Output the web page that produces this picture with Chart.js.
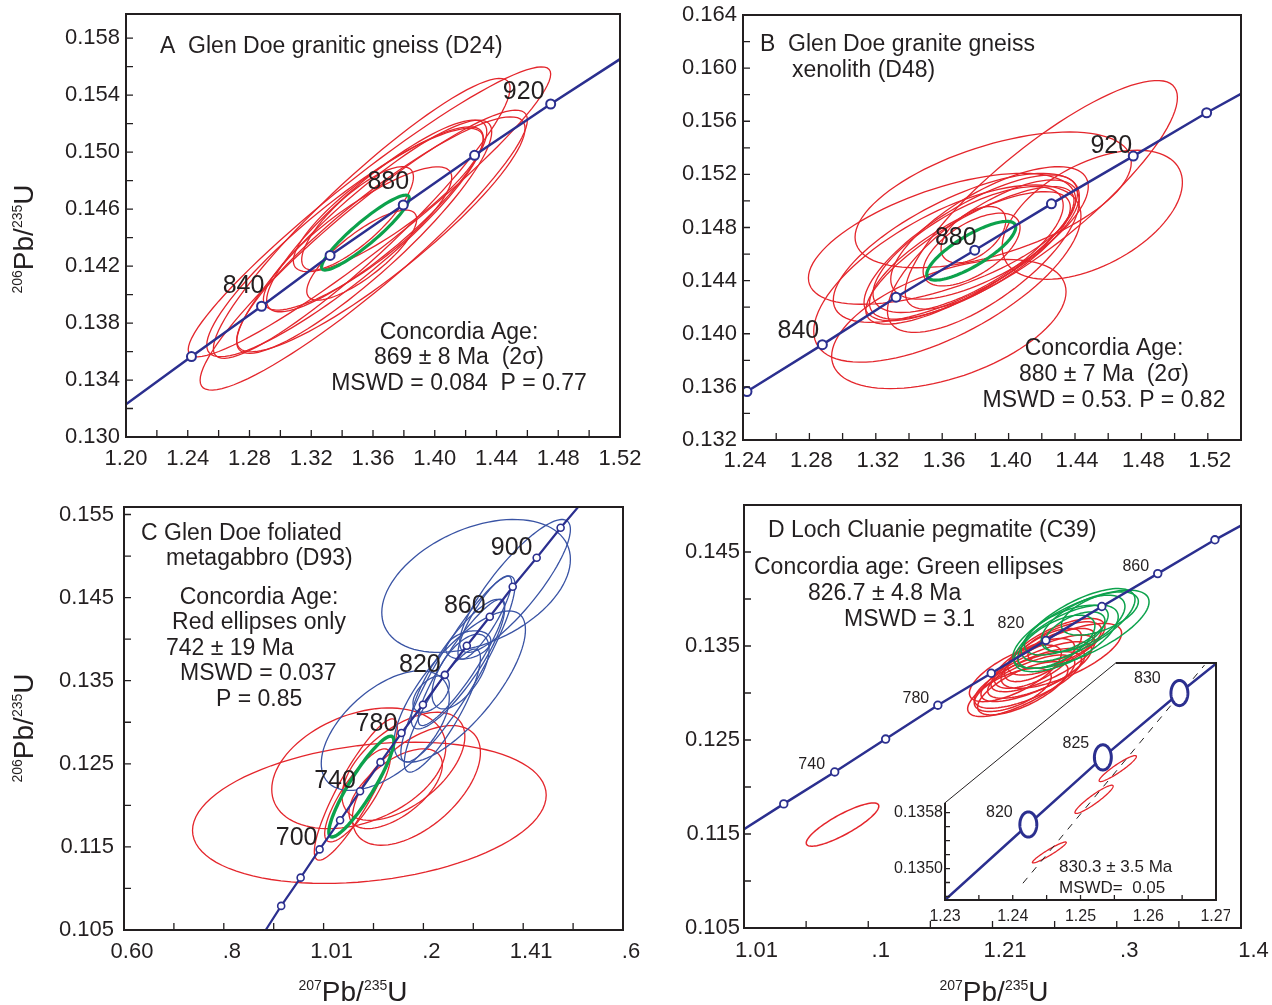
<!DOCTYPE html>
<html>
<head>
<meta charset="utf-8">
<title>Concordia diagrams</title>
<script src="https://cdn.jsdelivr.net/npm/chart.js@4.4.1/dist/chart.umd.min.js"></script>
<style>
  body { margin: 0; background: #fff; }
  #page { position: relative; width: 1272px; height: 1005px; overflow: hidden;
          font-family: "Liberation Sans", Arial, Helvetica, sans-serif; color: #231f20; }
  #page canvas { position: absolute; }
  .axt { position: absolute; width: 160px; text-align: center; font-size: 28px; line-height: 30px; white-space: nowrap; }
  .axt sup { font-size: 14px; vertical-align: baseline; position: relative; top: -11px; }
  .rot { transform: rotate(-90deg); }
</style>
</head>
<body>
<div id="page">
  <canvas id="cA" width="660" height="490" style="left:0;top:0"></canvas>
  <canvas id="cB" width="636" height="490" style="left:636px;top:0"></canvas>
  <canvas id="cC" width="660" height="515" style="left:0;top:490px"></canvas>
  <canvas id="cD" width="636" height="515" style="left:636px;top:490px"></canvas>
  <canvas id="cI" width="350" height="280" style="left:880px;top:650px"></canvas>
  <div class="axt rot" style="left:-54px;top:222px"><sup>206</sup>Pb/<sup>235</sup>U</div>
  <div class="axt rot" style="left:-54px;top:711px"><sup>206</sup>Pb/<sup>235</sup>U</div>
  <div class="axt" style="left:273px;top:977px"><sup>207</sup>Pb/<sup>235</sup>U</div>
  <div class="axt" style="left:914px;top:977px"><sup>207</sup>Pb/<sup>235</sup>U</div>
</div>
<script>
// ellipses are [centre 207/235, centre 206/238, half-width x, half-width y, rho]

// ---------- A  Glen Doe granitic gneiss (D24) ----------
const agesA = [820, 840, 860, 880, 900, 920];
const concXA = [1.2424, 1.2878, 1.3322, 1.3796, 1.4258, 1.4751];
const concYA = [0.13565, 0.13918, 0.14275, 0.14629, 0.14978, 0.15338];
const curveEndsA = [[1.20, 0.1323], [1.52, 0.15653]];
const redA = [
  [1.3577, 0.14581, 0.1174, 0.01018, 0.95],
  [1.3540, 0.14312, 0.1060, 0.00983, 0.93],
  [1.3527, 0.14535, 0.0961, 0.00983, 0.93],
  [1.3543, 0.14406, 0.0826, 0.00819, 0.90],
  [1.3624, 0.14552, 0.0713, 0.00673, 0.88],
  [1.3500, 0.14394, 0.0610, 0.00503, 0.85],
  [1.3500, 0.14535, 0.0362, 0.00363, 0.80],
  [1.3527, 0.14277, 0.0356, 0.00316, 0.80],
  [1.3651, 0.14423, 0.0934, 0.00825, 0.90],
  [1.3419, 0.14371, 0.0896, 0.00807, 0.90],
  [1.3699, 0.14664, 0.0615, 0.00503, 0.85]
];
const greenA = [[1.3551, 0.14435, 0.0284, 0.00263, 0.92]];
const xTickValsA = [1.20, 1.24, 1.28, 1.32, 1.36, 1.40, 1.44, 1.48, 1.52];
const xTickTextA = ['1.20', '1.24', '1.28', '1.32', '1.36', '1.40', '1.44', '1.48', '1.52'];
const yTickValsA = [0.130, 0.134, 0.138, 0.142, 0.146, 0.150, 0.154, 0.158];
const yTickTextA = ['0.130', '0.134', '0.138', '0.142', '0.146', '0.150', '0.154', '0.158'];

// ---------- B  Glen Doe granite gneiss xenolith (D48) ----------
const agesB = [820, 840, 860, 880, 900, 920, 940];
const concXB = [1.2424, 1.2878, 1.3322, 1.3796, 1.4258, 1.4751, 1.5193];
const concYB = [0.13565, 0.13918, 0.14275, 0.14629, 0.14978, 0.15338, 0.15664];
const curveEndsB = [[1.2380, 0.13533], [1.54, 0.15806]];
const redB = [
  [1.4197, 0.15046, 0.0820, 0.00861, 0.85],
  [1.3907, 0.15008, 0.0832, 0.00511, 0.55],
  [1.4504, 0.14896, 0.0543, 0.00486, 0.50],
  [1.3640, 0.14073, 0.0706, 0.00486, 0.50],
  [1.3599, 0.14715, 0.0805, 0.00493, 0.60],
  [1.3631, 0.14453, 0.0805, 0.00667, 0.65],
  [1.3685, 0.14647, 0.0741, 0.00561, 0.70],
  [1.3772, 0.14647, 0.0643, 0.00549, 0.75],
  [1.3767, 0.14590, 0.0627, 0.00518, 0.80],
  [1.3767, 0.14590, 0.0605, 0.00480, 0.75],
  [1.3756, 0.14634, 0.0573, 0.00474, 0.70],
  [1.3885, 0.14759, 0.0595, 0.00499, 0.70],
  [1.3788, 0.14746, 0.0195, 0.00212, 0.50],
  [1.3777, 0.14634, 0.0292, 0.00274, 0.60],
  [1.3848, 0.14584, 0.0578, 0.00574, 0.72]
];
const greenB = [[1.3775, 0.14625, 0.0268, 0.00221, 0.80]];
const xTickValsB = [1.24, 1.28, 1.32, 1.36, 1.40, 1.44, 1.48, 1.52];
const xTickTextB = ['1.24', '1.28', '1.32', '1.36', '1.40', '1.44', '1.48', '1.52'];
const yTickValsB = [0.132, 0.136, 0.140, 0.144, 0.148, 0.152, 0.156, 0.160, 0.164];
const yTickTextB = ['0.132', '0.136', '0.140', '0.144', '0.148', '0.152', '0.156', '0.160', '0.164'];

// ---------- C  Glen Doe foliated metagabbro (D93) ----------
const agesC = [660, 680, 700, 720, 740, 760, 780, 800, 820, 840, 860, 880, 900, 920];
const concXC = [0.915, 0.954, 0.992, 1.033, 1.073, 1.114, 1.156, 1.199, 1.243, 1.287, 1.333, 1.379, 1.427, 1.475];
const concYC = [0.1079, 0.1113, 0.1147, 0.1182, 0.1217, 0.1252, 0.1287, 0.1321, 0.1357, 0.1392, 0.1427, 0.1463, 0.1498, 0.1534];
const curveEndsC = [[0.884, 0.105], [1.52, 0.1566]];
const redC = [
  [1.0917, 0.1191, 0.3544, 0.0085, 0.25],
  [1.0705, 0.12446, 0.1744, 0.00726, 0.35],
  [1.1860, 0.1224, 0.1283, 0.0072, 0.55],
  [1.1600, 0.1247, 0.1231, 0.0065, 0.55],
  [1.0646, 0.1219, 0.0832, 0.0085, 0.88],
  [1.0681, 0.1212, 0.0659, 0.0056, 0.82],
  [1.1444, 0.1220, 0.0936, 0.0048, 0.60]
];
const blueC = [
  [1.3056, 0.1464, 0.1890, 0.0080, 0.40],
  [1.1236, 0.1290, 0.1283, 0.0072, 0.55],
  [1.2727, 0.1343, 0.1318, 0.0091, 0.75],
  [1.2692, 0.1364, 0.1144, 0.0112, 0.90],
  [1.2692, 0.1370, 0.0936, 0.0078, 0.85],
  [1.2744, 0.1361, 0.0572, 0.0045, 0.60],
  [1.3836, 0.1464, 0.1110, 0.0080, 0.85],
  [1.2380, 0.1314, 0.0763, 0.0074, 0.85],
  [1.2900, 0.1393, 0.0451, 0.0017, 0.30],
  [1.2155, 0.1334, 0.0364, 0.0022, 0.50],
  [1.3230, 0.1426, 0.0537, 0.0050, 0.85],
  [1.2761, 0.1372, 0.0867, 0.0076, 0.90]
];
const greenC = [[1.0757, 0.12226, 0.0652, 0.00606, 0.90]];
const xTickValsC = [0.6, 0.8, 1.0, 1.2, 1.4, 1.6];
const xTickTextC = ['0.60', '.8', '1.01', '.2', '1.41', '.6'];
const yTickValsC = [0.105, 0.115, 0.125, 0.135, 0.145, 0.155];
const yTickTextC = ['0.105', '0.115', '0.125', '0.135', '0.145', '0.155'];

// ---------- D  Loch Cluanie pegmatite (C39) ----------
const agesD = [720, 740, 760, 780, 800, 820, 840, 860, 880];
const concXD = [1.032, 1.073, 1.114, 1.156, 1.199, 1.243, 1.288, 1.333, 1.379];
const concYD = [0.1182, 0.1216, 0.1251, 0.1287, 0.1321, 0.1356, 0.1392, 0.1427, 0.1463];
const curveEndsD = [[1.0, 0.1155], [1.4, 0.1478]];
const redD = [
  [1.0793, 0.1160, 0.0292, 0.0023, 0.85],
  [1.2231, 0.13077, 0.0431, 0.00327, 0.75],
  [1.2285, 0.13139, 0.0431, 0.00301, 0.70],
  [1.2184, 0.13209, 0.0370, 0.00301, 0.70],
  [1.2352, 0.13227, 0.0445, 0.00318, 0.75],
  [1.2244, 0.13050, 0.0364, 0.00283, 0.70],
  [1.2406, 0.13315, 0.0418, 0.00301, 0.75],
  [1.2338, 0.13315, 0.0323, 0.00265, 0.65],
  [1.2554, 0.13395, 0.0485, 0.00345, 0.70],
  [1.2514, 0.13492, 0.0391, 0.00301, 0.70],
  [1.2540, 0.13510, 0.0337, 0.00248, 0.65],
  [1.2352, 0.13209, 0.0391, 0.00265, 0.70],
  [1.2554, 0.13510, 0.0269, 0.00177, 0.60],
  [1.2163, 0.13033, 0.0310, 0.00230, 0.60],
  [1.2406, 0.13404, 0.0310, 0.00283, 0.70]
];
const greenD = [
  [1.2712, 0.13678, 0.0548, 0.00416, 0.70],
  [1.2689, 0.13722, 0.0458, 0.00389, 0.70],
  [1.2594, 0.13581, 0.0418, 0.00354, 0.65],
  [1.2594, 0.13669, 0.0337, 0.00265, 0.60],
  [1.2729, 0.13740, 0.0337, 0.00301, 0.60],
  [1.2864, 0.13846, 0.0310, 0.00230, 0.55],
  [1.2514, 0.13545, 0.0310, 0.00283, 0.60],
  [1.2662, 0.13651, 0.0243, 0.00212, 0.55]
];
const xTickValsD = [1.0, 1.1, 1.2, 1.3, 1.4];
const xTickTextD = ['1.01', '.1', '1.21', '.3', '1.4'];
const yTickValsD = [0.105, 0.115, 0.125, 0.135, 0.145];
const yTickTextD = ['0.105', '0.115', '0.125', '0.135', '0.145'];

// ---------- D inset ----------
const agesI = [820, 825, 830];
const concXI = [1.2423, 1.2533, 1.2646];
const concYI = [0.13563, 0.13659, 0.13751];
const curveEndsI = [[1.23, 0.13455], [1.27, 0.13793]];
const ageErrI = [[0.00125, 0.00018], [0.00125, 0.00018], [0.00125, 0.00018]];
const dashXI = [1.2415, 1.2683];
const dashYI = [0.13479, 0.13791];
const redI = [
  [1.2454, 0.13523, 0.00250, 0.000150, 0.95],
  [1.2520, 0.13599, 0.00282, 0.000202, 0.93],
  [1.2555, 0.13643, 0.00275, 0.000186, 0.93]
];
const xTickValsI = [1.23, 1.24, 1.25, 1.26, 1.27];
const xTickTextI = ['1.23', '1.24', '1.25', '1.26', '1.27'];
const yTickValsI = [0.1350, 0.1358];
const yTickTextI = ['0.1350', '0.1358'];

const FONT = '"Liberation Sans", Arial, Helvetica, sans-serif';
const INK = '#231f20', NAVY = '#2b2f8f', RED = '#e4262c', GREEN = '#0ca24c', BLUE = '#3953a4';

function pts(xs, ys) { return xs.map((x, i) => ({ x, y: ys[i] })); }
function withEnds(ends, v, k) { return [ends[0][k]].concat(v, [ends[1][k]]); }
function steps(a, b, s) {
  const out = [];
  for (let v = a; v <= b + s / 1000; v += s) out.push(+v.toFixed(6));
  return out;
}

function ellipsePath(ctx, xs, ys, e) {
  const [cx, cy, ax, ay, rho] = e;
  const k = Math.sqrt(1 - rho * rho);
  ctx.beginPath();
  for (let i = 0; i <= 96; i++) {
    const t = (i / 96) * Math.PI * 2;
    const px = xs.getPixelForValue(cx + ax * Math.cos(t));
    const py = ys.getPixelForValue(cy + ay * (rho * Math.cos(t) + k * Math.sin(t)));
    if (i === 0) ctx.moveTo(px, py); else ctx.lineTo(px, py);
  }
  ctx.closePath();
}

function axis(dir, p) {
  const ax = p[dir];
  return {
    type: 'linear', min: ax.min, max: ax.max,
    grid: { display: false, drawTicks: false },
    border: { display: false },
    afterBuildTicks: s => { s.ticks = ax.vals.map(v => ({ value: v })); },
    afterFit: s => {
      if (dir === 'x') { s.height = ax.size; s.paddingLeft = 0; s.paddingRight = 0; }
      else { s.width = ax.size; s.paddingTop = 0; s.paddingBottom = 0; }
    },
    ticks: {
      autoSkip: false, maxRotation: 0, minRotation: 0, padding: ax.pad, color: INK,
      labelOffset: ax.shift || 0,
      font: { family: FONT, size: p.tickFont },
      callback: (v, i) => ax.text[i]
    }
  };
}

function panel(id, p) {
  const deco = {
    id: 'deco',
    beforeDraw(chart) {
      if (!p.cut) return;
      const { ctx, chartArea: a, scales: { x, y } } = chart;
      const cx = x.getPixelForValue(p.cut.x), cy = y.getPixelForValue(p.cut.y);
      ctx.save();
      ctx.fillStyle = '#fff';
      ctx.beginPath();
      ctx.moveTo(a.left, cy); ctx.lineTo(a.left, a.bottom); ctx.lineTo(a.right, a.bottom);
      ctx.lineTo(a.right, a.top); ctx.lineTo(cx, a.top); ctx.closePath();
      ctx.fill();
      ctx.restore();
    },
    beforeDatasetsDraw(chart) {
      const { ctx, chartArea: a, scales: { x, y } } = chart;
      ctx.save();
      ctx.beginPath(); ctx.rect(a.left, a.top, a.right - a.left, a.bottom - a.top); ctx.clip();
      p.ellipses.forEach(g => {
        ctx.strokeStyle = g.color; ctx.lineWidth = g.width;
        g.list.forEach(e => { ellipsePath(ctx, x, y, e); ctx.stroke(); });
      });
      ctx.restore();
    },
    afterDatasetsDraw(chart) {
      if (!p.ageErr) return;
      const { ctx, scales: { x, y } } = chart;
      ctx.save();
      ctx.fillStyle = '#fff'; ctx.strokeStyle = NAVY; ctx.lineWidth = 3;
      p.marks.x.forEach((mx, i) => {
        ellipsePath(ctx, x, y, [mx, p.marks.y[i], p.ageErr[i][0], p.ageErr[i][1], 0]);
        ctx.fill(); ctx.stroke();
      });
      ctx.restore();
    },
    afterDraw(chart) {
      const { ctx, chartArea: a, scales: { x, y } } = chart;
      ctx.save();
      // inward tick marks
      ctx.strokeStyle = INK; ctx.lineWidth = 1.3;
      ctx.beginPath();
      steps(...p.x.minor).forEach(v => {
        const px = x.getPixelForValue(v);
        ctx.moveTo(px, a.bottom); ctx.lineTo(px, a.bottom - p.tickLen);
      });
      steps(...p.y.minor).forEach(v => {
        const py = y.getPixelForValue(v);
        ctx.moveTo(a.left, py); ctx.lineTo(a.left + p.tickLen, py);
      });
      ctx.stroke();
      // frame
      ctx.lineWidth = 2;
      if (p.cut) {
        const cx = x.getPixelForValue(p.cut.x), cy = y.getPixelForValue(p.cut.y);
        ctx.beginPath();
        ctx.moveTo(cx, a.top); ctx.lineTo(a.right, a.top); ctx.lineTo(a.right, a.bottom);
        ctx.lineTo(a.left, a.bottom); ctx.lineTo(a.left, cy);
        ctx.stroke();
        ctx.lineWidth = 1;
        ctx.beginPath(); ctx.moveTo(a.left, cy); ctx.lineTo(cx, a.top); ctx.stroke();
      } else {
        ctx.strokeRect(a.left, a.top, a.right - a.left, a.bottom - a.top);
      }
      // age labels next to concordia ticks
      ctx.fillStyle = INK; ctx.textAlign = 'center'; ctx.textBaseline = 'middle';
      ctx.font = p.ageFont + 'px ' + FONT;
      p.ageLabels.forEach(([age, dx, dy]) => {
        const i = p.ages.indexOf(age);
        ctx.fillText(String(age), x.getPixelForValue(p.marks.x[i]) + dx, y.getPixelForValue(p.marks.y[i]) + dy);
      });
      // panel notes
      ctx.font = p.textFont + 'px ' + FONT;
      p.texts.forEach(([t, tx, ty, al]) => {
        ctx.textAlign = al || 'left';
        ctx.fillText(t, tx - p.origin[0], ty - p.origin[1]);
      });
      ctx.restore();
    }
  };

  const datasets = [
    { data: pts(p.marks.x, p.marks.y), showLine: false, pointRadius: p.marks.r,
      pointBackgroundColor: '#fff', pointBorderColor: NAVY, pointBorderWidth: p.marks.w },
    { data: pts(p.curve.x, p.curve.y), showLine: true, borderColor: NAVY, borderWidth: p.curve.w,
      pointRadius: 0, tension: 0 }
  ];
  if (p.dash) datasets.push({ data: pts(p.dash.x, p.dash.y), showLine: true, borderColor: INK,
    borderWidth: 1, borderDash: [7, 7], pointRadius: 0 });

  new Chart(document.getElementById(id), {
    type: 'scatter',
    data: { datasets },
    options: {
      responsive: false, animation: false, devicePixelRatio: 1, events: [],
      layout: { padding: p.pad },
      plugins: { legend: { display: false }, tooltip: { enabled: false } },
      scales: { x: axis('x', p), y: axis('y', p) }
    },
    plugins: [deco]
  });
}

panel('cA', {
  origin: [0, 0], pad: { left: 0, top: 14, right: 40, bottom: 0 },
  x: { min: 1.20, max: 1.52, vals: xTickValsA, text: xTickTextA, size: 53, pad: 9, minor: [1.20, 1.52, 0.02] },
  y: { min: 0.130, max: 0.1597, vals: yTickValsA, text: yTickTextA, size: 126, pad: 6, minor: [0.130, 0.158, 0.002] },
  tickFont: 22, tickLen: 7,
  curve: { x: withEnds(curveEndsA, concXA, 0), y: withEnds(curveEndsA, concYA, 1), w: 2.5 },
  marks: { x: concXA, y: concYA, r: 4.5, w: 2 },
  ellipses: [{ list: redA, color: RED, width: 1.3 }, { list: greenA, color: GREEN, width: 3.2 }],
  ages: agesA, ageLabels: [[840, -18, -20], [880, -15, -23], [920, -27, -12]], ageFont: 25,
  textFont: 23,
  texts: [
    ['A  Glen Doe granitic gneiss (D24)', 160, 47],
    ['Concordia Age:', 459, 333, 'center'],
    ['869 \u00b1 8 Ma  (2\u03c3)', 459, 358, 'center'],
    ['MSWD = 0.084  P = 0.77', 459, 384, 'center']
  ]
});

panel('cB', {
  origin: [636, 0], pad: { left: 0, top: 15, right: 31, bottom: 0 },
  x: { min: 1.24, max: 1.54, vals: xTickValsB, text: xTickTextB, size: 50, pad: 8, shift: 2, minor: [1.24, 1.54, 0.02] },
  y: { min: 0.132, max: 0.164, vals: yTickValsB, text: yTickTextB, size: 107, pad: 6, minor: [0.132, 0.164, 0.002] },
  tickFont: 22, tickLen: 7,
  curve: { x: withEnds(curveEndsB, concXB, 0), y: withEnds(curveEndsB, concYB, 1), w: 2.5 },
  marks: { x: concXB, y: concYB, r: 4.5, w: 2 },
  ellipses: [{ list: redB, color: RED, width: 1.3 }, { list: greenB, color: GREEN, width: 3.2 }],
  ages: agesB, ageLabels: [[840, -24, -14], [880, -19, -12], [920, -22, -10]], ageFont: 25,
  textFont: 23,
  texts: [
    ['B  Glen Doe granite gneiss', 760, 45],
    ['xenolith (D48)', 792, 71],
    ['Concordia Age:', 1104, 349, 'center'],
    ['880 \u00b1 7 Ma  (2\u03c3)', 1104, 375, 'center'],
    ['MSWD = 0.53. P = 0.82', 1104, 401, 'center']
  ]
});

panel('cC', {
  origin: [0, 490], pad: { left: 0, top: 17, right: 37, bottom: 0 },
  x: { min: 0.6, max: 1.6, vals: xTickValsC, text: xTickTextC, size: 75, pad: 9, shift: 8, minor: [0.6, 1.6, 0.1] },
  y: { min: 0.105, max: 0.1559, vals: yTickValsC, text: yTickTextC, size: 124, pad: 10, minor: [0.105, 0.155, 0.005] },
  tickFont: 22, tickLen: 7,
  curve: { x: withEnds(curveEndsC, concXC, 0), y: withEnds(curveEndsC, concYC, 1), w: 2.2 },
  marks: { x: concXC, y: concYC, r: 3.5, w: 1.6 },
  ellipses: [{ list: redC, color: RED, width: 1.3 }, { list: blueC, color: BLUE, width: 1.3 },
             { list: greenC, color: GREEN, width: 3.4 }],
  ages: agesC, ageLabels: [[700, -23, -11], [740, -25, -10], [780, -25, -9], [820, -25, -10], [860, -25, -11], [900, -25, -10]],
  ageFont: 25,
  textFont: 23,
  texts: [
    ['C Glen Doe foliated', 141, 534],
    ['metagabbro (D93)', 166, 559],
    ['Concordia Age:', 259, 598, 'center'],
    ['Red ellipses only', 259, 623, 'center'],
    ['742 \u00b1 19 Ma', 166, 649],
    ['MSWD = 0.037', 180, 674],
    ['P = 0.85', 216, 700]
  ]
});

panel('cD', {
  origin: [636, 490], pad: { left: 0, top: 15, right: 31, bottom: 0 },
  x: { min: 1.0, max: 1.4, vals: xTickValsD, text: xTickTextD, size: 77, pad: 10, shift: 12.5, minor: [1.0, 1.4, 0.05] },
  y: { min: 0.105, max: 0.150, vals: yTickValsD, text: yTickTextD, size: 108, pad: 4, minor: [0.105, 0.145, 0.005] },
  tickFont: 22, tickLen: 7,
  curve: { x: withEnds(curveEndsD, concXD, 0), y: withEnds(curveEndsD, concYD, 1), w: 2.5 },
  marks: { x: concXD, y: concYD, r: 3.8, w: 1.8 },
  ellipses: [{ list: redD, color: RED, width: 1.5 }, { list: greenD, color: GREEN, width: 1.5 }],
  ages: agesD, ageLabels: [[740, -23, -7], [780, -22, -7], [820, -35, -17], [860, -22, -7]], ageFont: 16,
  textFont: 23,
  texts: [
    ['D Loch Cluanie pegmatite (C39)', 768, 531],
    ['Concordia age: Green ellipses', 754, 568],
    ['826.7 \u00b1 4.8 Ma', 808, 594],
    ['MSWD = 3.1', 844, 620]
  ]
});

panel('cI', {
  origin: [880, 650], pad: { left: 0, top: 13, right: 14, bottom: 0 },
  x: { min: 1.23, max: 1.27, vals: xTickValsI, text: xTickTextI, size: 30, pad: 7, minor: [1.23, 1.27, 0.005] },
  y: { min: 0.13455, max: 0.13794, vals: yTickValsI, text: yTickTextI, size: 65, pad: 2, minor: [0.1346, 0.1358, 0.0002] },
  tickFont: 16, tickLen: 5,
  cut: { x: 1.2552, y: 0.13594 },
  curve: { x: withEnds(curveEndsI, concXI, 0), y: withEnds(curveEndsI, concYI, 1), w: 2.5 },
  marks: { x: concXI, y: concYI, r: 0, w: 0 },
  ageErr: ageErrI,
  dash: { x: dashXI, y: dashYI },
  ellipses: [{ list: redI, color: RED, width: 1.3 }],
  ages: agesI, ageLabels: [[820, -29, -12], [825, -27, -14], [830, -32, -14]], ageFont: 16,
  textFont: 17,
  texts: [
    ['830.3 \u00b1 3.5 Ma', 1059, 867],
    ['MSWD=  0.05', 1059, 888]
  ]
});
</script>
</body>
</html>
